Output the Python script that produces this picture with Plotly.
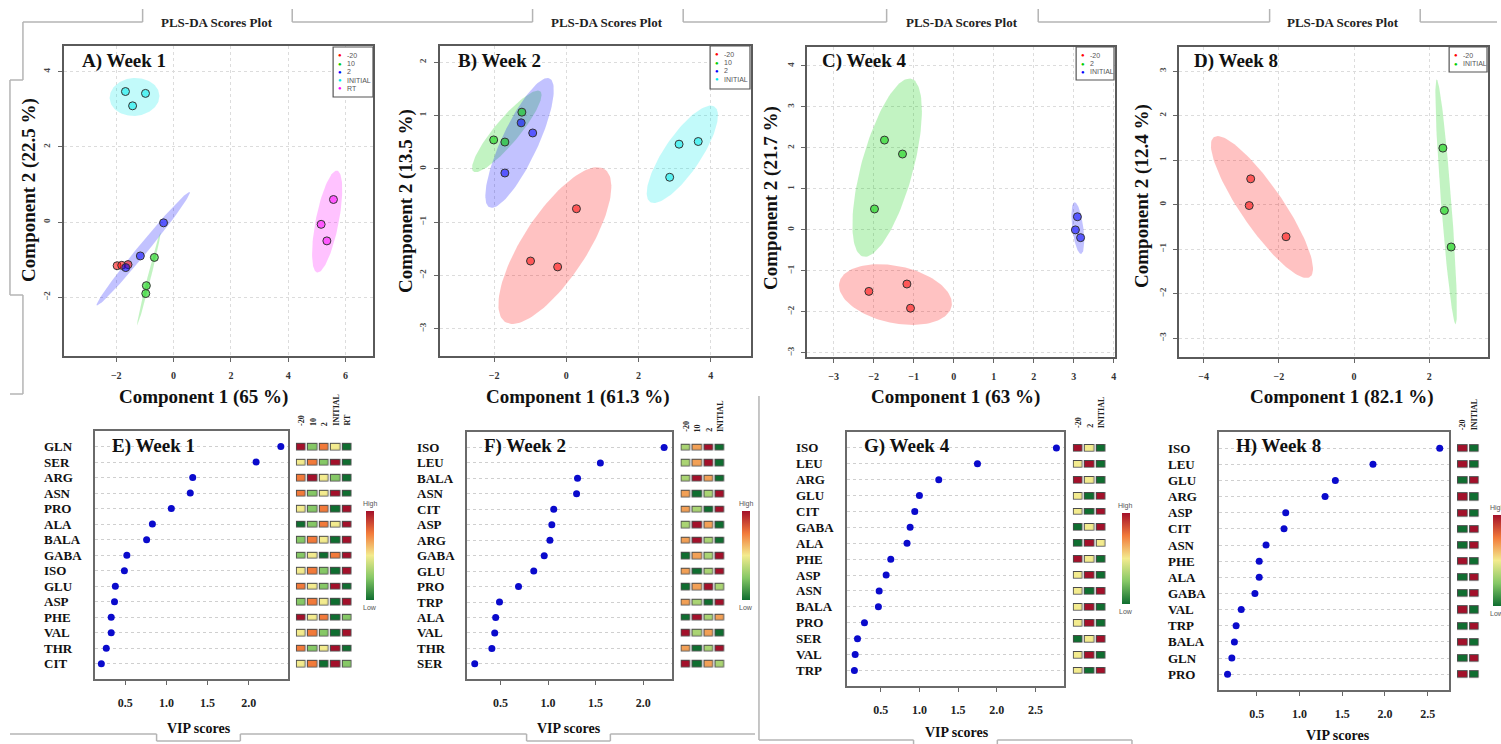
import numpy as np
import plotly.graph_objects as go

W, H = 1501, 744


def fx(px):
    return px / W


def fy(py):
    return 1 - py / H


# ---------------- PLS-DA scores (component 1, component 2) ----------------
W1_GROUPS = ["-20", "10", "2", "INITIAL", "RT"]
W1_PC1 = {"-20": [-1.97, -1.81, -1.59], "10": [-0.67, -0.95, -0.97], "2": [-0.35, -1.16, -1.67],
          "INITIAL": [-1.68, -0.98, -1.43], "RT": [5.58, 5.15, 5.35]}
W1_PC2 = {"-20": [-1.16, -1.15, -1.13], "10": [-0.94, -1.69, -1.90], "2": [-0.02, -0.90, -1.21],
          "INITIAL": [3.47, 3.42, 3.09], "RT": [0.60, -0.06, -0.50]}

W2_GROUPS = ["-20", "10", "2", "INITIAL"]
W2_PC1 = {"-20": [0.28, -0.99, -0.24], "10": [-2.01, -1.70, -1.23], "2": [-1.25, -0.93, -1.70],
          "INITIAL": [3.12, 3.65, 2.86]}
W2_PC2 = {"-20": [-0.75, -1.73, -1.84], "10": [0.54, 0.50, 1.06], "2": [0.86, 0.67, -0.08],
          "INITIAL": [0.46, 0.51, -0.16]}

W4_GROUPS = ["-20", "2", "INITIAL"]
W4_PC1 = {"-20": [-2.12, -1.17, -1.08], "2": [-1.73, -1.28, -1.98], "INITIAL": [3.09, 3.04, 3.17]}
W4_PC2 = {"-20": [-1.50, -1.32, -1.91], "2": [2.19, 1.85, 0.51], "INITIAL": [0.32, 0.00, -0.19]}

W8_GROUPS = ["-20", "INITIAL"]
W8_PC1 = {"-20": [-2.75, -2.79, -1.81], "INITIAL": [2.36, 2.40, 2.58]}
W8_PC2 = {"-20": [0.58, -0.02, -0.72], "INITIAL": [1.27, -0.13, -0.95]}

VAR_EXPLAINED = [(65, 22.5), (61.3, 13.5), (63, 21.7), (82.1, 12.4)]

# ---------------- VIP scores ----------------
W1_VIP_NAMES = ["GLN", "SER", "ARG", "ASN", "PRO", "ALA", "BALA", "GABA", "ISO", "GLU",
                "ASP", "PHE", "VAL", "THR", "CIT"]
W1_VIP = [2.39, 2.09, 1.32, 1.29, 1.06, 0.83, 0.76, 0.52, 0.49, 0.38, 0.37, 0.33, 0.33, 0.27, 0.21]
W1_LEVELS = [[5, 2, 4, 3, 1], [3, 4, 2, 5, 1], [4, 5, 3, 2, 1], [4, 2, 3, 5, 1], [3, 2, 4, 1, 5],
             [1, 2, 4, 3, 5], [2, 4, 3, 1, 5], [2, 3, 1, 4, 5], [3, 4, 2, 1, 5], [4, 3, 2, 5, 1],
             [2, 4, 3, 1, 5], [5, 3, 4, 1, 2], [3, 4, 2, 1, 5], [4, 2, 3, 5, 1], [3, 4, 1, 5, 2]]

W2_VIP_NAMES = ["ISO", "LEU", "BALA", "ASN", "CIT", "ASP", "ARG", "GABA", "GLU", "PRO",
                "TRP", "ALA", "VAL", "THR", "SER"]
W2_VIP = [2.22, 1.55, 1.31, 1.30, 1.06, 1.04, 1.02, 0.96, 0.85, 0.69, 0.49, 0.45, 0.44, 0.41, 0.23]
W2_LEVELS = [[2, 3, 4, 1], [2, 3, 4, 1], [2, 4, 3, 1], [3, 1, 2, 4], [3, 2, 1, 4],
             [2, 4, 3, 1], [3, 4, 2, 1], [1, 3, 2, 4], [3, 1, 2, 4], [1, 3, 4, 2],
             [3, 2, 1, 4], [1, 4, 2, 3], [4, 2, 3, 1], [3, 1, 2, 4], [4, 1, 3, 2]]

W4_VIP_NAMES = ["ISO", "LEU", "ARG", "GLU", "CIT", "GABA", "ALA", "PHE", "ASP", "ASN",
                "BALA", "PRO", "SER", "VAL", "TRP"]
W4_VIP = [2.77, 1.75, 1.25, 1.00, 0.94, 0.88, 0.84, 0.63, 0.57, 0.48, 0.47, 0.29, 0.20, 0.17, 0.16]
W4_LEVELS = [[3, 2, 1], [2, 3, 1], [3, 2, 1], [2, 1, 3], [2, 1, 3], [1, 2, 3], [1, 3, 2],
             [3, 2, 1], [2, 3, 1], [2, 1, 3], [2, 3, 1], [2, 3, 1], [1, 2, 3], [2, 3, 1], [2, 1, 3]]

W8_VIP_NAMES = ["ISO", "LEU", "GLU", "ARG", "ASP", "CIT", "ASN", "PHE", "ALA", "GABA",
                "VAL", "TRP", "BALA", "GLN", "PRO"]
W8_VIP = [2.64, 1.86, 1.42, 1.30, 0.84, 0.82, 0.61, 0.53, 0.53, 0.48, 0.32, 0.26, 0.24, 0.21, 0.16]
W8_LEVELS = [[2, 1], [2, 1], [1, 2], [2, 1], [2, 1], [1, 2], [1, 2], [2, 1], [1, 2], [1, 2],
             [2, 1], [1, 2], [2, 1], [1, 2], [2, 1]]

WEEK_TITLES = ["Week 1", "Week 2", "Week 4", "Week 8"]

# ---------------- styling ----------------
SERIF = "Liberation Serif"
SANS = "Liberation Sans"
GROUP_RGB = ["255,0,0", "0,205,0", "0,0,255", "0,235,235", "255,0,255"]
HEAT_SCALE = [[0.0, "#0f6e30"], [0.25, "#86c866"], [0.5, "#f3eb8e"], [0.75, "#f27a3a"], [1.0, "#a3102a"]]
BRACKET = "#b4b4b4"

# plot-box placement (pixels: left, right, top, bottom)
SCORE_BOX = [(64, 374, 46, 356), (441, 753, 46, 356), (809, 1118, 47, 357), (1182, 1492, 47, 357)]
SCORE_XR = [(-3.83, 6.96), (-3.50, 5.11), (-3.67, 4.03), (-4.66, 3.56)]
SCORE_YR = [(-3.56, 4.68), (-3.51, 2.30), (-3.10, 4.46), (-3.42, 3.54)]
SCORE_DX = [2, 2, 1, 2]
SCORE_DY = [2, 1, 1, 1]
XTITLE_POS = [(204, 397), (580, 397), (958, 397), (1346, 397)]
YTITLE_POS = [(29, 190), (407, 201), (773, 198), (1145, 196)]
LEGEND_BOX = [(334, 374, 47, 97), (712, 752, 46, 89), (1079, 1117, 47, 80), (1453, 1491, 47, 72)]
HEADING_X = [218, 609, 965, 1347]

VIP_BOX = [(95, 289, 431, 679), (468, 674, 432, 679), (849, 1067, 432, 686), (1222, 1453, 432, 690)]
VIP_XR = [(0.13, 2.48), (0.146, 2.305), (0.061, 2.87), (0.057, 2.75)]
ROWLAB_X = [42, 416, 796, 1169]
VIPTITLE_POS = [(200, 728), (571, 728), (960, 732), (1342, 735)]
HEAT_BOX = [(296.6, 353.7), (682.3, 727.7), (1075.6, 1109.9), (1460.9, 1484.1)]
HEAD_BOTTOM = [428, 434, 430, 432]
CBAR = [(367, 511, 89), (744, 511, 89), (1125, 513, 91), (1497, 515, 91)]

scores = [(W1_GROUPS, W1_PC1, W1_PC2), (W2_GROUPS, W2_PC1, W2_PC2),
          (W4_GROUPS, W4_PC1, W4_PC2), (W8_GROUPS, W8_PC1, W8_PC2)]
vips = [(W1_VIP_NAMES, W1_VIP, W1_LEVELS, W1_GROUPS), (W2_VIP_NAMES, W2_VIP, W2_LEVELS, W2_GROUPS),
        (W4_VIP_NAMES, W4_VIP, W4_LEVELS, W4_GROUPS), (W8_VIP_NAMES, W8_VIP, W8_LEVELS, W8_GROUPS)]


def conf_ellipse(xs, ys, n=120):
    """95 % confidence ellipse of a group's scores."""
    pts = np.column_stack([xs, ys])
    mu = pts.mean(axis=0)
    cov = np.cov(pts.T)
    vals, vecs = np.linalg.eigh(cov)
    vals = np.clip(vals, 0, None)
    r = np.sqrt(5.991464547)
    t = np.linspace(0, 2 * np.pi, n)
    circ = np.vstack([np.cos(t), np.sin(t)])
    e = vecs @ (np.sqrt(vals)[:, None] * circ) * r
    return mu[0] + e[0], mu[1] + e[1]


annotations = []
shapes = []


def note(text, x, y, xref="paper", yref="paper", xanchor="center", yanchor="middle", **kw):
    annotations.append(dict(text=text, x=x, y=y, xref=xref, yref=yref, xanchor=xanchor,
                            yanchor=yanchor, showarrow=False, **kw))


fig = go.Figure()
layout = {}

# ---------------- score plots ----------------
for i, (groups, pc1, pc2) in enumerate(scores):
    k = i + 1
    xa, ya = f"x{k}", f"y{k}"
    l, r, t, b = SCORE_BOX[i]
    layout[f"xaxis{k}"] = dict(domain=[fx(l), fx(r)], anchor=ya, range=list(SCORE_XR[i]),
                               dtick=SCORE_DX[i], tick0=0, showgrid=True, gridcolor="#dcdcdc",
                               griddash="dot", zeroline=False, showline=True, mirror=True,
                               linecolor="#5a5a5a", linewidth=1.5, ticks="outside", ticklen=4,
                               tickcolor="#666", tickfont=dict(family=SERIF, size=10, color="#333",
                                                               weight="bold"),
                               ticklabelstandoff=5)
    layout[f"yaxis{k}"] = dict(domain=[fy(b), fy(t)], anchor=xa, range=list(SCORE_YR[i]),
                               dtick=SCORE_DY[i], tick0=0, showgrid=True, gridcolor="#dcdcdc",
                               griddash="dot", zeroline=False, showline=True, mirror=True,
                               linecolor="#5a5a5a", linewidth=1.5, ticks="outside", ticklen=4,
                               tickcolor="#666", tickangle=-90,
                               tickfont=dict(family=SERIF, size=9, color="#444", weight="bold"),
                               ticklabelstandoff=4)
    for g, name in enumerate(groups):
        ex, ey = conf_ellipse(pc1[name], pc2[name])
        fig.add_trace(go.Scatter(x=ex, y=ey, mode="lines", line=dict(width=0), fill="toself",
                                 fillcolor=f"rgba({GROUP_RGB[g]},0.24)", hoverinfo="skip",
                                 showlegend=False, xaxis=xa, yaxis=ya))
    for g, name in enumerate(groups):
        fig.add_trace(go.Scatter(x=pc1[name], y=pc2[name], mode="markers", name=name,
                                 marker=dict(size=8, color=f"rgba({GROUP_RGB[g]},0.55)",
                                             line=dict(width=1, color="#333")),
                                 showlegend=False, xaxis=xa, yaxis=ya))

    # panel label, heading and axis titles
    note(f"{'ABCD'[i]}) {WEEK_TITLES[i]}", fx(l + 16 if i < 2 else l + 13), fy(61), xanchor="left",
         font=dict(family=SERIF, size=19, color="#111", weight="bold"))
    note("PLS-DA Scores Plot", fx(HEADING_X[i]), fy(23),
         font=dict(family=SERIF, size=13, color="#222", weight="bold"))
    p1, p2 = VAR_EXPLAINED[i]
    note(f"Component 1 ({p1} %)", fx(XTITLE_POS[i][0]), fy(XTITLE_POS[i][1]),
         font=dict(family=SERIF, size=19, color="#111", weight="bold"))
    note(f"Component 2 ({p2} %)", fx(YTITLE_POS[i][0]), fy(YTITLE_POS[i][1]), textangle=-90,
         font=dict(family=SERIF, size=19, color="#111", weight="bold"))

    # group key in the upper-right corner
    lx0, lx1, ly0, ly1 = LEGEND_BOX[i]
    shapes.append(dict(type="rect", xref="paper", yref="paper", x0=fx(lx0), x1=fx(lx1), y0=fy(ly1),
                       y1=fy(ly0), line=dict(color="#555", width=1.2), fillcolor="white", layer="above"))
    for g, name in enumerate(groups):
        yy = ly0 + 8.3 + 8.3 * g
        note("●", fx(lx0 + 6.5), fy(yy), font=dict(size=6, color=f"rgb({GROUP_RGB[g]})"))
        note(name, fx(lx0 + 12), fy(yy), xanchor="left", font=dict(family=SANS, size=7, color="#555"))

# ---------------- VIP dot charts with group heat strips ----------------
for i, (names, vip, levels, groups) in enumerate(vips):
    k = i + 5
    kh = i + 9
    xa, ya = f"x{k}", f"y{k}"
    xh, yh = f"x{kh}", f"y{kh}"
    l, r, t, b = VIP_BOX[i]
    n = len(names)
    yr = [n - 0.02, -1.0]
    rows = list(range(n))
    layout[f"xaxis{k}"] = dict(domain=[fx(l), fx(r)], anchor=ya, range=list(VIP_XR[i]), dtick=0.5,
                               tick0=0, tickformat=".1f", showgrid=False, zeroline=False,
                               showline=True, mirror=True, linecolor="#6a6a6a", linewidth=1.5,
                               ticks="outside", ticklen=4, tickcolor="#666",
                               tickfont=dict(family=SERIF, size=12, color="#222", weight="bold"),
                               ticklabelstandoff=8)
    layout[f"yaxis{k}"] = dict(domain=[fy(b), fy(t)], anchor=xa, range=yr, tickvals=rows,
                               showticklabels=False, ticks="", showgrid=True, gridcolor="#cfcfcf",
                               griddash="dot", zeroline=False, showline=True, mirror=True,
                               linecolor="#6a6a6a", linewidth=1.5)
    fig.add_trace(go.Scatter(x=vip, y=rows, mode="markers", marker=dict(size=7, color="#0a0acc"),
                             showlegend=False, xaxis=xa, yaxis=ya, text=names))
    for j, nm in enumerate(names):
        note(nm, fx(ROWLAB_X[i]), j, yref=ya, xanchor="left",
             font=dict(family=SERIF, size=13, color="#111", weight="bold"))
    note(f"{'EFGH'[i]}) {WEEK_TITLES[i]}", fx(l + 15), fy(446), xanchor="left",
         font=dict(family=SERIF, size=19, color="#111", weight="bold"))
    note("VIP scores", fx(VIPTITLE_POS[i][0]), fy(VIPTITLE_POS[i][1]),
         font=dict(family=SERIF, size=14, color="#111", weight="bold"))

    # heat strip of relative group levels
    hl, hr = HEAT_BOX[i]
    m = len(groups)
    cols = list(range(m))
    layout[f"xaxis{kh}"] = dict(domain=[fx(hl), fx(hr)], anchor=yh, range=[-0.5, m - 0.5],
                                visible=False)
    layout[f"yaxis{kh}"] = dict(domain=[fy(b), fy(t)], anchor=xh, range=yr, visible=False)
    z = np.array(levels, dtype=float)
    fig.add_trace(go.Heatmap(z=np.zeros_like(z), x=cols, y=rows, xgap=1.4, ygap=8.4,
                             colorscale=[[0, "#4a4a4a"], [1, "#4a4a4a"]], showscale=False,
                             hoverinfo="skip", xaxis=xh, yaxis=yh))
    cx, cy, clen = CBAR[i]
    fig.add_trace(go.Heatmap(z=z, x=cols, y=rows, xgap=3.2, ygap=10.2, zmin=1, zmax=m,
                             colorscale=HEAT_SCALE, xaxis=xh, yaxis=yh, showscale=True,
                             colorbar=dict(x=fx(cx), xanchor="left", y=fy(cy), yanchor="top",
                                           len=clen, lenmode="pixels", thickness=8,
                                           thicknessmode="pixels", outlinewidth=0,
                                           showticklabels=False, ticks="", xpad=0, ypad=0)))
    note("High", fx(cx + 4), fy(cy - 7), font=dict(family=SANS, size=7, color="#555"))
    note("Low", fx(cx + 4), fy(cy + clen + 7), font=dict(family=SANS, size=7, color="#555"))
    for c, gname in enumerate(groups):
        note(gname, c, fy(HEAD_BOTTOM[i]), xref=xh, yanchor="bottom", textangle=-90,
             font=dict(family=SERIF, size=8, color="#222", weight="bold"))

# ---------------- grouping brackets ----------------
segments = [
    # top rail with raised tabs around the headings
    (23, 22, 143, 22), (143, 22, 143, 9), (293, 9, 293, 22), (293, 22, 534, 22),
    (534, 22, 534, 9), (685, 9, 685, 22), (685, 22, 889, 22), (889, 22, 889, 9),
    (1041, 9, 1041, 22), (1041, 22, 1273, 22), (1273, 22, 1273, 9), (1424, 9, 1424, 22),
    (1424, 22, 1501, 22),
    # left brace of the score row
    (23, 22, 23, 80), (23, 80, 10, 80), (10, 80, 10, 295), (10, 295, 23, 295),
    (23, 295, 23, 394), (23, 394, 10, 394),
    # bottom rails with lowered tabs under the VIP titles
    (10, 734, 157, 734), (157, 734, 157, 741), (157, 741, 241, 741), (241, 741, 241, 734),
    (241, 734, 528, 734), (528, 734, 528, 741), (528, 741, 612, 741), (612, 741, 612, 734),
    (612, 734, 757, 734), (761, 396, 761, 740), (761, 740, 916, 740), (916, 740, 916, 744),
    (1000, 744, 1000, 740), (1000, 740, 1135, 740), (1135, 740, 1135, 744),
]
for x0, y0, x1, y1 in segments:
    shapes.append(dict(type="line", xref="paper", yref="paper", x0=fx(x0), y0=fy(y0),
                       x1=fx(x1), y1=fy(y1), line=dict(color=BRACKET, width=1.5)))

fig.update_layout(width=W, height=H, margin=dict(l=0, r=0, t=0, b=0), paper_bgcolor="white",
                  plot_bgcolor="white", showlegend=False, annotations=annotations, shapes=shapes,
                  font=dict(family=SERIF), **layout)

fig.write_html("out.html")
